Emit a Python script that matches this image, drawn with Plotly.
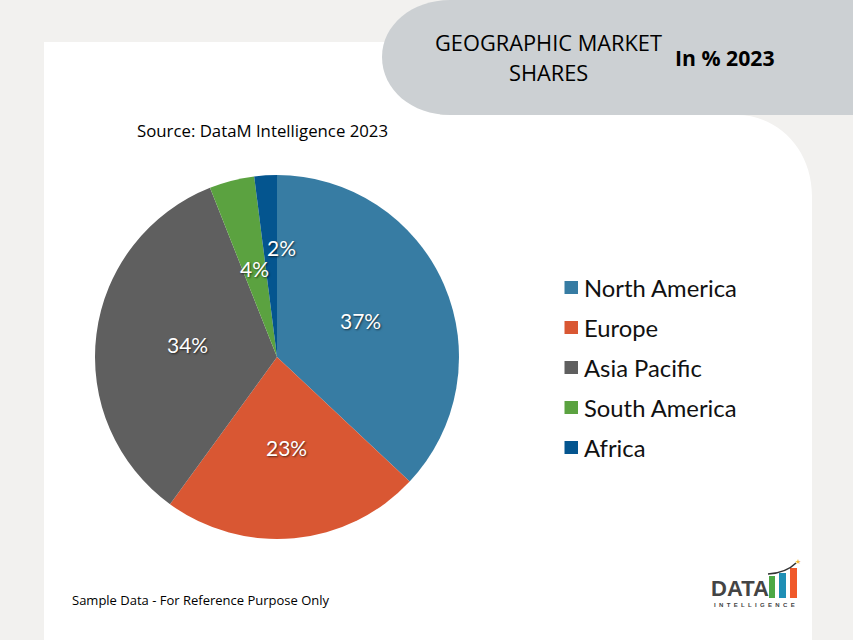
# -*- coding: utf-8 -*-
import plotly.graph_objects as go

W = 853
H = 640

regions = ["North America", "Europe", "Asia Pacific", "South America", "Africa"]
shares = [37, 23, 34, 4, 2]
colors = ["#377CA3", "#D95733", "#5F5F5F", "#5BA240", "#04558F"]


def px(x):
    return x / W


def py(y):
    return 1 - y / H


def path(s):
    # s is a list of (command, x, y) in pixels from the top left
    out = ""
    for c, x, y in s:
        out += "%s %.5f %.5f " % (c, px(x), py(y))
    return out + "Z"


def caja(fig, x0, y0, x1, y1, color):
    fig.add_shape(type="rect", xref="paper", yref="paper", x0=px(x0), x1=px(x1), y0=py(y0), y1=py(y1),
                  fillcolor=color, line_width=0, layer="above")


def texto(fig, x, y, t, size, color="#000000", family="Open Sans", anchor="center", shadow=None):
    fig.add_annotation(x=px(x), y=py(y), xref="paper", yref="paper", text=t, showarrow=False,
                       xanchor=anchor, yanchor="middle", align="center",
                       font=dict(size=size, color=color, family=family, shadow=shadow))


fig = go.Figure(go.Pie(
    labels=regions,
    values=shares,
    sort=False,
    direction="clockwise",
    rotation=0,
    textinfo="none",
    hoverinfo="label+percent",
    marker=dict(colors=colors, line=dict(width=0)),
    domain=dict(x=[px(95), px(459)], y=[py(539), py(175)]),
    showlegend=False,
))

# fondo de la tarjeta blanca
fig.add_shape(type="path", xref="paper", yref="paper", layer="below", fillcolor="#FFFFFF", line_width=0,
              path=path([("M", 44, 42), ("L", 440, 42), ("L", 440, 115), ("L", 737, 115),
                         ("C", 779, 115), ("", 812, 150), ("", 812, 196), ("L", 812, 640), ("L", 44, 640)]))

# cabecera gris
fig.add_shape(type="path", xref="paper", yref="paper", layer="below", fillcolor="#CCD0D3", line_width=0,
              path=path([("M", 853, 0), ("L", 853, 115), ("L", 450, 115),
                         ("C", 412, 115), ("", 382, 90), ("", 382, 57),
                         ("C", 382, 25), ("", 412, 0), ("", 450, 0)]))

texto(fig, 548, 43, "GEOGRAPHIC MARKET", 21.8)
texto(fig, 548, 73, "SHARES", 21.8)
texto(fig, 725, 58, "<b>In % 2023</b>", 21.2)
texto(fig, 262, 130.5, "Source: DataM Intelligence 2023", 16.8)
texto(fig, 200.5, 600, "Sample Data - For Reference Purpose Only", 13)

# etiquetas de la tarta
sombra = "1px 1px 2px rgba(0,0,0,0.6)"
etiquetas_x = [360, 286, 187, 254, 281]
etiquetas_y = [320, 447, 344, 268, 248]
for i in range(len(shares)):
    texto(fig, etiquetas_x[i], etiquetas_y[i], str(shares[i]) + "%", 21, "#FFFFFF", "Lato", shadow=sombra)

# leyenda
for i in range(len(regions)):
    y = 288 + i * 40
    caja(fig, 564.5, y - 7, 578, y + 6, colors[i])
    texto(fig, 582, y, regions[i], 23.8, "#111111", "Lato", anchor="left")

# logo
texto(fig, 739.5, 588, "<b>DATA</b>", 22, "#444444", "Liberation Sans")
caja(fig, 769, 576, 775, 598, "#4CA845")
caja(fig, 779, 573, 786, 598, "#1F8FB5")
caja(fig, 790, 568, 797, 598, "#F0592A")
fig.add_shape(type="path", xref="paper", yref="paper", layer="above", line=dict(color="#333333", width=1.5),
              path="M %.5f %.5f Q %.5f %.5f %.5f %.5f" % (px(768), py(574), px(786), py(573), px(796), py(563)))
texto(fig, 798, 562, "★", 7, "#F2B632", "DejaVu Sans")
texto(fig, 754.5, 605, "<b>" + "&nbsp;&nbsp;".join("INTELLIGENCE") + "</b>", 6, "#444444", "Liberation Sans")

fig.update_layout(
    width=W,
    height=H,
    margin=dict(l=0, r=0, t=0, b=0),
    paper_bgcolor="#F2F1EF",
    plot_bgcolor="#F2F1EF",
)

fig.write_html("out.html", config=dict(displayModeBar=False),
               post_script="document.body.style.margin='0';")
